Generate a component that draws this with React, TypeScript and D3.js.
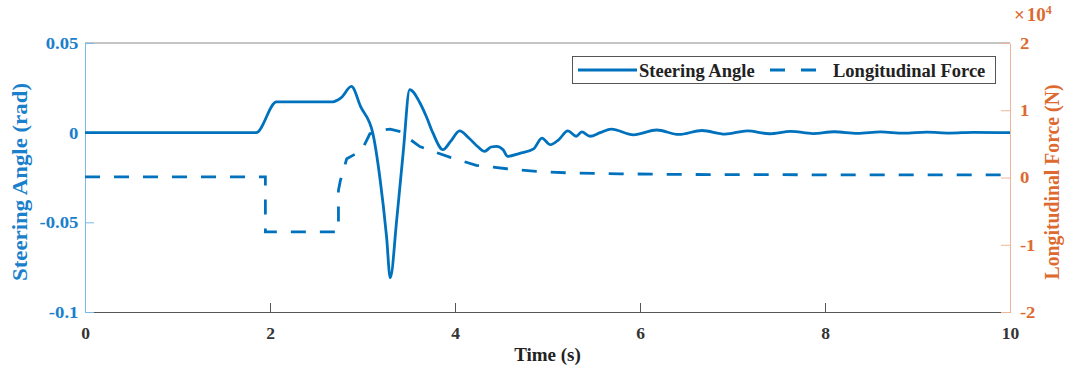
import { useRef, useEffect } from "react";
import * as d3 from "d3";

// steering angle (rad) vs time (s)
const steerTime = [
  0, 1.85, 2.07, 2.68, 2.77, 2.88, 2.98, 3.11, 3.19, 3.26, 3.3, 3.37, 3.44, 3.51,
  3.62, 3.69, 3.76, 3.87, 3.95, 4.05, 4.15, 4.25, 4.32, 4.39, 4.45, 4.52, 4.57, 4.7,
  4.85, 4.94, 5.03, 5.12, 5.22, 5.31, 5.37, 5.46, 5.57, 5.69, 5.93, 6.18, 6.42, 6.67,
  6.92, 7.16, 7.4, 7.63, 7.87, 8.1, 8.35, 8.6, 8.85, 9.1, 9.35, 9.6, 10,
];
const steerAngle = [
  0, 0, 0.0172, 0.0172, 0.0195, 0.0258, 0.0145, 0, -0.026, -0.058, -0.081, -0.0485,
  -0.011, 0.024, 0.0167, 0.009, 0, -0.0095, -0.005, 0.001, -0.003, -0.008, -0.0104, -0.008,
  -0.0076, -0.0095, -0.0132, -0.0115, -0.009, -0.003, -0.0067, -0.004, 0.001, -0.002,
  0.0004, -0.002, 0, 0.002, -0.0012, 0.0015, -0.001, 0.0012, -0.0008, 0.001, -0.0006,
  0.0007, -0.0005, 0.0005, -0.0004, 0.0004, -0.0003, 0.0003, -0.0002, 0.0002, 0,
];

// longitudinal force (x10^4 N) vs time (s)
const forceTime = [
  0, 1.95, 1.95, 2.74, 2.74, 2.76, 2.83, 2.99, 3.08, 3.2, 3.3, 3.42, 3.48, 3.62, 3.8,
  3.95, 4.23, 4.56, 4.88, 5.21, 5.78, 6.5, 8, 10,
];
const longForce = [
  0.01, 0.01, -0.81, -0.81, -0.19, -0.05, 0.28, 0.4, 0.65, 0.7, 0.72, 0.68, 0.6, 0.46,
  0.37, 0.3, 0.18, 0.13, 0.09, 0.07, 0.055, 0.045, 0.04, 0.04,
];

const xTicks = [0, 2, 4, 6, 8, 10];
const leftTicks = [0.05, 0, -0.05, -0.1];
const rightTicks = [2, 1, 0, -1, -2];
const seriesNames = ["Steering Angle", "Longitudinal Force"];

export default function App() {
  const svgRef = useRef<SVGSVGElement>(null);

  useEffect(() => {
    if (!svgRef.current) return;
    const svg = d3.select(svgRef.current);
    svg.selectAll("*").remove();

    const W = 1070;
    const H = 365;
    const left = 85;
    const right = 1010;
    const top = 43;
    const bottom = 312;
    const font = "'Liberation Serif', 'Times New Roman', serif";
    const lineBlue = "#0072BD";
    const textBlue = "#1a80cb";
    const axisBlue = "#7ab8e8";
    const textOrange = "#dd6a30";
    const axisOrange = "#f0b49a";

    svg.attr("width", W).attr("height", H).attr("viewBox", `0 0 ${W} ${H}`);
    svg.append("rect").attr("width", W).attr("height", H).attr("fill", "#fff");

    const x = d3.scaleLinear().domain([0, 10]).range([left, right]);
    const yL = d3.scaleLinear().domain([-0.1, 0.05]).range([bottom, top]);
    const yR = d3.scaleLinear().domain([-2, 2]).range([bottom, top]);

    // top border
    svg
      .append("line")
      .attr("x1", left)
      .attr("x2", right)
      .attr("y1", top)
      .attr("y2", top)
      .attr("stroke", "#8a8a8a")
      .attr("stroke-width", 1);

    // x axis
    const gx = svg
      .append("g")
      .attr("transform", `translate(0,${bottom})`)
      .call(
        d3
          .axisBottom(x)
          .tickValues(xTicks)
          .tickSizeInner(-9)
          .tickSizeOuter(0)
          .tickPadding(15)
          .tickFormat((d) => String(d)),
      );
    gx.select(".domain").attr("stroke", "#555");
    gx.selectAll(".tick line").attr("stroke", "#555");
    gx.selectAll("text")
      .attr("fill", "#333")
      .style("font-family", font)
      .style("font-weight", "bold")
      .style("font-size", "17.5px");

    // left axis
    const gl = svg
      .append("g")
      .attr("transform", `translate(${left},0)`)
      .call(
        d3
          .axisLeft(yL)
          .tickValues(leftTicks)
          .tickSizeInner(-9)
          .tickSizeOuter(0)
          .tickPadding(6)
          .tickFormat((d) => String(d)),
      );
    gl.selectAll(".domain, .tick line").attr("stroke", axisBlue);
    gl.selectAll("text")
      .attr("fill", textBlue)
      .attr("transform", "scale(1.1,1)")
      .style("font-family", font)
      .style("font-weight", "bold")
      .style("font-size", "17px");

    // right axis
    const gr = svg
      .append("g")
      .attr("transform", `translate(${right},0)`)
      .call(
        d3
          .axisRight(yR)
          .tickValues(rightTicks)
          .tickSizeInner(-9)
          .tickSizeOuter(0)
          .tickPadding(9)
          .tickFormat((d) => String(d)),
      );
    gr.selectAll(".domain, .tick line").attr("stroke", axisOrange);
    gr.selectAll("text")
      .attr("fill", textOrange)
      .attr("transform", "scale(1.1,1)")
      .style("font-family", font)
      .style("font-weight", "bold")
      .style("font-size", "17px");

    // exponent label
    const ex = svg
      .append("text")
      .attr("x", 1014)
      .attr("y", 21)
      .attr("fill", textOrange)
      .style("font-family", font)
      .style("font-weight", "bold")
      .style("font-size", "19px");
    ex.append("tspan").text("\u00d7");
    ex.append("tspan").attr("dx", 2).text("10");
    ex.append("tspan").attr("dy", -7).style("font-size", "12px").text("4");

    // axis labels
    svg
      .append("text")
      .attr("x", (left + right) / 2)
      .attr("y", 361)
      .attr("text-anchor", "middle")
      .attr("fill", "#222")
      .style("font-family", font)
      .style("font-weight", "bold")
      .style("font-size", "19px")
      .text("Time (s)");

    svg
      .append("text")
      .attr("transform", `translate(27,182) rotate(-90)`)
      .attr("text-anchor", "middle")
      .attr("fill", textBlue)
      .attr("textLength", 198)
      .attr("lengthAdjust", "spacingAndGlyphs")
      .style("font-family", font)
      .style("font-weight", "bold")
      .style("font-size", "20px")
      .text("Steering Angle (rad)");

    svg
      .append("text")
      .attr("transform", `translate(1059,182) rotate(-90)`)
      .attr("text-anchor", "middle")
      .attr("fill", textOrange)
      .attr("textLength", 195)
      .attr("lengthAdjust", "spacingAndGlyphs")
      .style("font-family", font)
      .style("font-weight", "bold")
      .style("font-size", "20px")
      .text("Longitudinal Force (N)");

    // series
    const steerPts = steerTime.map((t, i) => [t, steerAngle[i]] as [number, number]);
    const forcePts = forceTime.map((t, i) => [t, longForce[i]] as [number, number]);

    const steerLine = d3
      .line<[number, number]>()
      .x((d) => x(d[0]))
      .y((d) => yL(d[1]))
      .curve(d3.curveMonotoneX);
    const forceLine = d3
      .line<[number, number]>()
      .x((d) => x(d[0]))
      .y((d) => yR(d[1]))
      .curve(d3.curveLinear);

    svg
      .append("path")
      .datum(forcePts)
      .attr("d", forceLine)
      .attr("fill", "none")
      .attr("stroke", lineBlue)
      .attr("stroke-width", 2.8)
      .attr("stroke-dasharray", "15,14");

    svg
      .append("path")
      .datum(steerPts)
      .attr("d", steerLine)
      .attr("fill", "none")
      .attr("stroke", lineBlue)
      .attr("stroke-width", 2.8)
      .attr("stroke-linejoin", "round");

    // legend
    const lg = svg.append("g");
    lg.append("rect")
      .attr("x", 572.5)
      .attr("y", 56.5)
      .attr("width", 423)
      .attr("height", 27)
      .attr("fill", "#fff")
      .attr("stroke", "#555")
      .attr("stroke-width", 1);
    const legendItems = [
      { name: seriesNames[0], x1: 578, x2: 637, tx: 639, dash: null },
      { name: seriesNames[1], x1: 770, x2: 816, tx: 833, dash: "15,16" },
    ];
    legendItems.forEach((it) => {
      lg.append("line")
        .attr("x1", it.x1)
        .attr("x2", it.x2)
        .attr("y1", 70)
        .attr("y2", 70)
        .attr("stroke", lineBlue)
        .attr("stroke-width", 2.8)
        .attr("stroke-dasharray", it.dash);
      lg.append("text")
        .attr("x", it.tx)
        .attr("y", 76.5)
        .attr("fill", "#222")
        .style("font-family", font)
        .style("font-weight", "bold")
        .style("font-size", "18.5px")
        .text(it.name);
    });
  }, []);

  return (
    <svg
      ref={svgRef}
      style={{ position: "absolute", left: 0, top: 0, display: "block" }}
    />
  );
}
